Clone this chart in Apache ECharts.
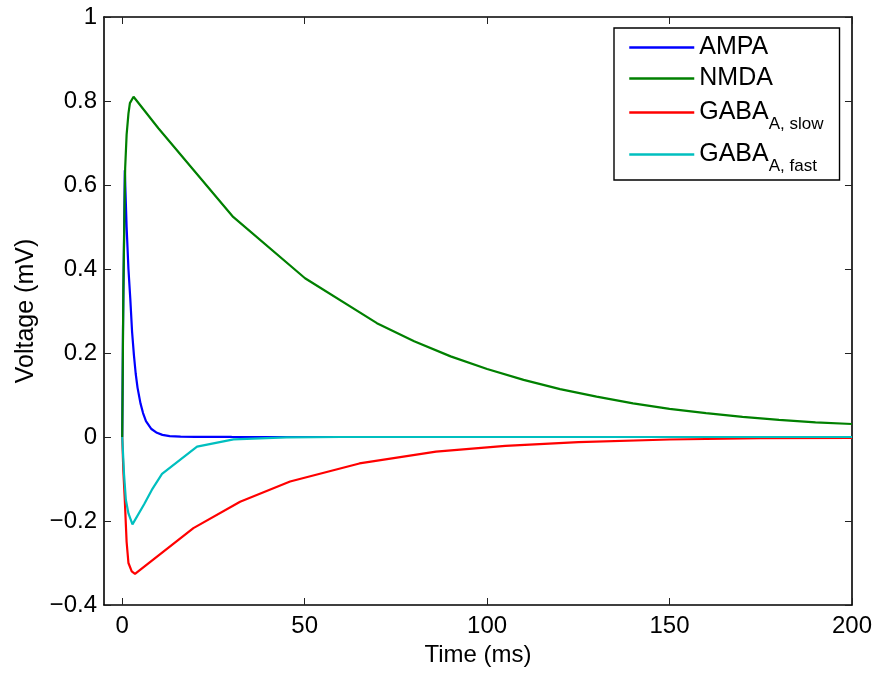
<!DOCTYPE html>
<html>
<head>
<meta charset="utf-8">
<script src="https://cdn.jsdelivr.net/npm/echarts@6/dist/echarts.min.js"></script>
<style>html,body{margin:0;padding:0;background:#fff}#c{width:875px;height:675px}</style>
</head>
<body>
<div id="c"></div>
<script>
// ---- data ----
var seriesNames = ['AMPA', 'NMDA', 'GABA_A, slow', 'GABA_A, fast'];
var xTicks = [0, 50, 100, 150, 200];
var yTicks = [-0.4, -0.2, 0, 0.2, 0.4, 0.6, 0.8, 1];

var ampaT = [0, 0.2, 0.7, 1.2, 1.7, 2.2, 2.7, 3.2, 3.7, 4.2, 5.0, 5.7, 6.5, 8.0, 9.5, 11, 13, 16, 20, 30, 50, 200];
var ampaV = [0, 0.25, 0.635, 0.50, 0.40, 0.33, 0.25, 0.195, 0.15, 0.117, 0.08, 0.057, 0.038, 0.019, 0.01, 0.005, 0.002, 0.001, 0.0005, 0.0001, 0, 0];

var nmdaT = [0, 0.3, 0.8, 1.2, 1.7, 2.1, 3.1, 9.9, 30.4, 50.1, 69.8, 80, 90, 100, 110, 120, 130, 140, 150, 160, 170, 180, 190, 200];
var nmdaV = [0, 0.35, 0.64, 0.72, 0.77, 0.795, 0.81, 0.735, 0.524, 0.378, 0.271, 0.228, 0.192, 0.162, 0.136, 0.114, 0.096, 0.080, 0.067, 0.057, 0.048, 0.041, 0.035, 0.031];

var gabaSlowT = [0, 0.3, 0.7, 1.2, 1.7, 2.6, 3.5, 19.5, 32.3, 46, 65, 86, 105, 125, 150, 175, 200];
var gabaSlowV = [0, -0.08, -0.15, -0.25, -0.30, -0.32, -0.326, -0.217, -0.154, -0.106, -0.063, -0.035, -0.021, -0.012, -0.006, -0.003, -0.002];

var gabaFastT = [0, 0.5, 1.0, 1.7, 2.8, 3.3, 6.0, 8.1, 10.9, 20.5, 30.5, 45, 60, 200];
var gabaFastV = [0, -0.09, -0.15, -0.182, -0.208, -0.208, -0.16, -0.126, -0.088, -0.023, -0.0055, -0.001, 0, 0];

var colors = ['#0000ff', '#008000', '#ff0000', '#00bfbf'];

function pairs(t, v) { return t.map(function (x, i) { return [x, v[i]]; }); }

var chart = echarts.init(document.getElementById('c'), null, {renderer: 'canvas'});
var FONT = 'Liberation Sans, Arial, Helvetica, sans-serif';

function yFmt(v) {
  var r = Math.round(v * 10) / 10;
  if (r < 0) return '\u2212' + String(-r);
  return String(r);
}

var axisLine = {show: true, onZero: false, lineStyle: {color: '#000', width: 1.6}};
var tickStyle = {color: '#222', width: 1};

var option = {
  backgroundColor: '#fff',
  animation: false,
  grid: {left: 104, right: 23, top: 17, bottom: 70, containLabel: false},
  legend: {
    left: 614, top: 28, orient: 'vertical',
    padding: [7, 16, 5, 14],
    itemGap: 6, itemWidth: 65, itemHeight: 2,
    backgroundColor: '#fff', borderColor: '#000', borderWidth: 1.4, borderRadius: 0,
    selectedMode: false,
    itemStyle: {opacity: 0},
    lineStyle: {width: 2.5},
    data: seriesNames,
    textStyle: {
      fontFamily: FONT, fontSize: 25, color: '#000', lineHeight: 24,
      rich: {
        g: {fontFamily: FONT, fontSize: 25, color: '#000', lineHeight: 31, verticalAlign: 'middle'},
        s: {fontFamily: FONT, fontSize: 17, color: '#000', lineHeight: 31, verticalAlign: 'bottom', padding: [0, 0, -5, 0]}
      }
    },
    formatter: function (name) {
      var i = name.indexOf('_');
      if (i < 0) return name;
      return '{g|' + name.slice(0, i) + '}{s|' + name.slice(i + 1) + '}';
    }
  },
  xAxis: [{
    type: 'value', min: -5, max: 200, position: 'bottom',
    axisLine: axisLine,
    axisTick: {show: true, inside: true, length: 7, lineStyle: tickStyle, customValues: xTicks},
    axisLabel: {show: true, customValues: xTicks, fontFamily: FONT, fontSize: 24, color: '#000', margin: 9},
    splitLine: {show: false},
    name: 'Time (ms)', nameLocation: 'middle', nameGap: 37,
    nameTextStyle: {fontFamily: FONT, fontSize: 24, color: '#000'}
  }, {
    type: 'value', min: -5, max: 200, position: 'top',
    axisLine: axisLine,
    axisTick: {show: true, inside: true, length: 7, lineStyle: tickStyle, customValues: xTicks},
    axisLabel: {show: false},
    splitLine: {show: false}
  }],
  yAxis: [{
    type: 'value', min: -0.4, max: 1, interval: 0.2, position: 'left',
    axisLine: axisLine,
    axisTick: {show: true, inside: true, length: 7, lineStyle: tickStyle},
    axisLabel: {fontFamily: FONT, fontSize: 24, color: '#000', margin: 7, formatter: yFmt},
    splitLine: {show: false},
    name: 'Voltage (mV)', nameLocation: 'middle', nameGap: 63,
    nameTextStyle: {fontFamily: FONT, fontSize: 25, color: '#000'}
  }, {
    type: 'value', min: -0.4, max: 1, interval: 0.2, position: 'right',
    axisLine: axisLine,
    axisTick: {show: true, inside: true, length: 7, lineStyle: tickStyle},
    axisLabel: {show: false},
    splitLine: {show: false}
  }],
  series: [
    {name: seriesNames[0], data: pairs(ampaT, ampaV), color: colors[0]},
    {name: seriesNames[1], data: pairs(nmdaT, nmdaV), color: colors[1]},
    {name: seriesNames[2], data: pairs(gabaSlowT, gabaSlowV), color: colors[2]},
    {name: seriesNames[3], data: pairs(gabaFastT, gabaFastV), color: colors[3]}
  ].map(function (s) {
    return Object.assign({
      type: 'line', xAxisIndex: 0, yAxisIndex: 0,
      showSymbol: false, symbol: 'none', smooth: false,
      lineStyle: {width: 2.2, color: s.color}, itemStyle: {color: s.color},
      emphasis: {disabled: true}
    }, s);
  })
};
chart.setOption(option);
</script>
</body>
</html>
